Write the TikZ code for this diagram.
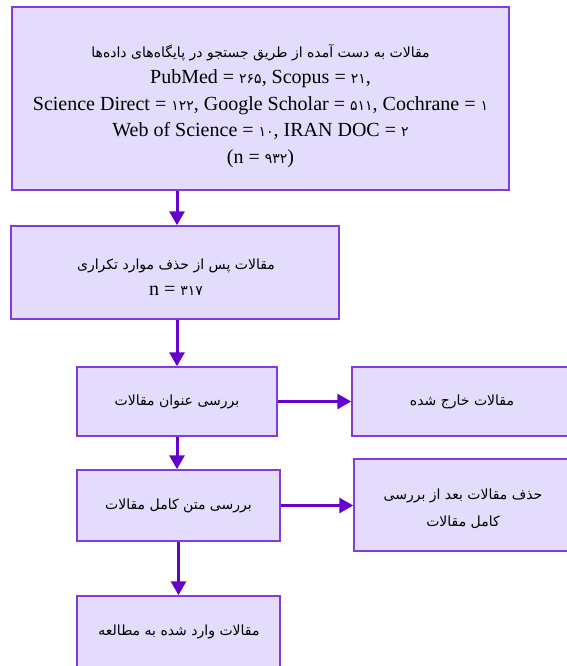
\documentclass[tikz,border=0pt]{standalone}
\usepackage{fontspec}
\setmainfont{Liberation Serif}
\newfontfamily\fa[Script=Arabic]{DejaVu Sans}
\newfontfamily\fd{DejaVu Sans}
\TeXXeTstate=1
\usetikzlibrary{arrows.meta}
\definecolor{boxfill}{RGB}{227,220,252}
\definecolor{boxdraw}{RGB}{130,60,220}
\definecolor{arrowc}{RGB}{102,0,204}
\newcommand{\fan}[1]{{\fa\fontsize{14}{26.5}\selectfont\beginR #1\endR}}
\newcommand{\dg}[1]{{\fd\fontsize{14}{14}\selectfont #1}}
\begin{document}
\begin{tikzpicture}[x=1pt,y=-1pt,
  box/.style={draw=boxdraw, fill=boxfill, line width=1.5pt, rectangle, inner sep=0pt},
  txt/.style={align=center, inner sep=0pt, font=\fontsize{20}{26.5}\selectfont},
  arr/.style={draw=arrowc, line width=3pt, -{Triangle[length=14pt,width=15pt]}}]
\useasboundingbox (0,0) rectangle (567,666);
% boxes
\node[box, minimum width=497pt, minimum height=183pt] (b1) at (260.5,98.5) {};
\node[box, minimum width=328pt, minimum height=93pt] (b2) at (175,272.5) {};
\node[box, minimum width=200pt, minimum height=69pt] (b3) at (177,401.5) {};
\node[box, minimum width=220pt, minimum height=69pt] (r1) at (462,401.5) {};
\node[box, minimum width=203pt, minimum height=71pt] (b4) at (178.5,505.5) {};
\node[box, minimum width=218pt, minimum height=92pt] (r2) at (463,505) {};
\node[box, minimum width=203pt, minimum height=74pt] (b5) at (178.5,633) {};
% texts
\node[txt] (t1) at (260.5,106) {\fan{مقالات به دست آمده از طریق جستجو در پایگاه‌های داده‌ها}\\
PubMed = \dg{۲۶۵}, Scopus = \dg{۲۱},\\
Science Direct = \dg{۱۲۲}, Google Scholar = \dg{۵۱۱}, Cochrane = \dg{۱}\\
Web of Science = \dg{۱۰}, IRAN DOC = \dg{۲}\\
(n = \dg{۹۳۲})};
\node[txt] (t2) at (176,277) {\fan{مقالات پس از حذف موارد تکراری}\\ n = \dg{۳۱۷}};
\node[txt] (t3) at (b3.center) {\fan{بررسی عنوان مقالات}};
\node[txt] (t4) at (462,401.5) {\fan{مقالات خارج شده}};
\node[txt] (t5) at (b4.center) {\fan{بررسی متن کامل مقالات}};
\node[txt] (t6) at (463,508.5) {\fan{حذف مقالات بعد از بررسی}\\ \fan{کامل مقالات}};
\node[txt] (t7) at (179,632) {\fan{مقالات وارد شده به مطالعه}};
% arrows
\draw[arr] (b1.south -| b2.north) ++(2,0) coordinate (a1) -- (a1 |- b2.north);
\draw[arr] (b2.south -| b3.north) -- (b3.north);
\draw[arr] (b3.east) -- (b3.east -| r1.west);
\draw[arr] (b3.south) -- (b3.south |- b4.north);
\draw[arr] (b4.east) -- (b4.east -| r2.west);
\draw[arr] (b4.south) -- (b5.north);
\end{tikzpicture}
\end{document}
